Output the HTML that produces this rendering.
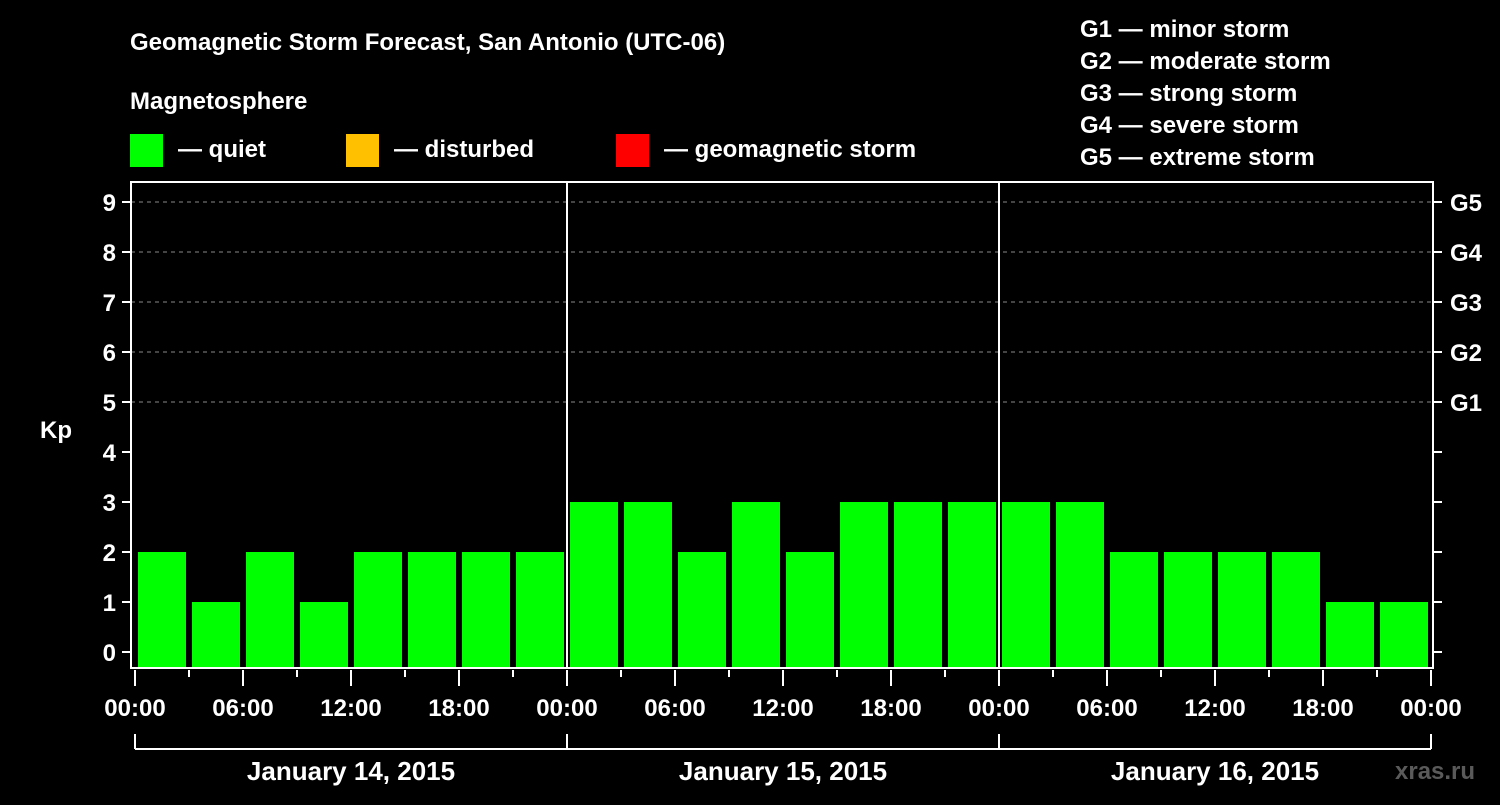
<!DOCTYPE html>
<html><head><meta charset="utf-8"><style>
body{margin:0;background:#000;width:1500px;height:800px;overflow:hidden}
svg text{font-family:"Liberation Sans",Arial,sans-serif;font-weight:bold;fill:#fff}
</style></head><body>
<svg id="c" width="1500" height="800" xmlns="http://www.w3.org/2000/svg">
<text x="130" y="50" font-size="24">Geomagnetic Storm Forecast, San Antonio (UTC-06)</text>
<text x="130" y="109" font-size="24">Magnetosphere</text>
<g><rect x="130" y="134" width="33" height="33" fill="#00ff00"/><text x="178" y="157" font-size="24">— quiet</text></g>
<g><rect x="346" y="134" width="33" height="33" fill="#ffc000"/><text x="394" y="157" font-size="24">— disturbed</text></g>
<g><rect x="616" y="134" width="33" height="33" fill="#ff0000"/><text x="664" y="157" font-size="24">— geomagnetic storm</text></g>
<g font-size="24">
<text x="1080" y="37">G1 — minor storm</text>
<text x="1080" y="69">G2 — moderate storm</text>
<text x="1080" y="101">G3 — strong storm</text>
<text x="1080" y="133">G4 — severe storm</text>
<text x="1080" y="165">G5 — extreme storm</text>
</g>
<text x="40" y="438" font-size="24">Kp</text>
<text x="1395" y="779" font-size="24" fill="#555" style="fill:#5a5a5a">xras.ru</text>
<g id="plot"></g>
</svg>
<script>
const kpValues=[2,1,2,1,2,2,2,2,3,3,2,3,2,3,3,3,3,3,2,2,2,2,1,1];
const yTicks=[0,1,2,3,4,5,6,7,8,9];
const gLabels=["G1","G2","G3","G4","G5"];
const xLabels=["00:00","06:00","12:00","18:00","00:00","06:00","12:00","18:00","00:00","06:00","12:00","18:00","00:00"];
const dayLabels=["January 14, 2015","January 15, 2015","January 16, 2015"];
const NS="http://www.w3.org/2000/svg";
const g=document.getElementById('plot');
const X0=135,HOUR=18,Y0=652,UNIT=50,BOT=668;
const xs=h=>X0+h*HOUR, ys=v=>Y0-v*UNIT;
function mk(t,a,p){const e=document.createElementNS(NS,t);for(const k in a)e.setAttribute(k,a[k]);(p||g).appendChild(e);return e;}
// gridlines
for(let v=5;v<=9;v++){const l=mk('line',{x1:131,x2:1433,y1:ys(v),y2:ys(v),stroke:'#888','stroke-dasharray':'4,4','stroke-width':1});

}
// bars
kpValues.forEach((v,i)=>{const b=mk('rect',{x:xs(i*3)+3,y:ys(v),width:48,height:BOT-ys(v),fill:v>=5?'#ff0000':(v>=4?'#ffc000':'#00ff00')});

});
// day dividers
[24,48].forEach(h=>{const l=mk('line',{x1:xs(h),x2:xs(h),y1:182,y2:668,stroke:'#fff','stroke-width':2});

});
// frame
const fr=mk('path',{d:'M131 182H1433V668H131Z',fill:'none',stroke:'#fff','stroke-width':2});


// y ticks
yTicks.forEach(v=>{mk('line',{x1:122,x2:131,y1:ys(v),y2:ys(v),stroke:'#fff','stroke-width':2});
mk('line',{x1:1433,x2:1442,y1:ys(v),y2:ys(v),stroke:'#fff','stroke-width':2});
const t=mk('text',{x:116,y:ys(v)+9,'font-size':24,'text-anchor':'end'});t.textContent=v;

});
gLabels.forEach((s,i)=>{const t=mk('text',{x:1450,y:ys(i+5)+9,'font-size':24});t.textContent=s;

});
// x ticks
for(let h=0;h<=72;h+=3){const long=h%6===0;mk('line',{x1:xs(h),x2:xs(h),y1:670,y2:long?686:677,stroke:'#fff','stroke-width':2});}
xLabels.forEach((s,i)=>{const t=mk('text',{x:xs(i*6),y:716,'font-size':24,'text-anchor':'middle'});t.textContent=s;

});
// day bracket
mk('line',{x1:xs(0),x2:xs(72),y1:749,y2:749,stroke:'#fff','stroke-width':2});
[0,24,48,72].forEach(h=>mk('line',{x1:xs(h),x2:xs(h),y1:734,y2:749,stroke:'#fff','stroke-width':2}));
dayLabels.forEach((s,i)=>{const t=mk('text',{x:xs(i*24+12),y:780,'font-size':26,'text-anchor':'middle'});t.textContent=s;

});
</script>
</body></html>
